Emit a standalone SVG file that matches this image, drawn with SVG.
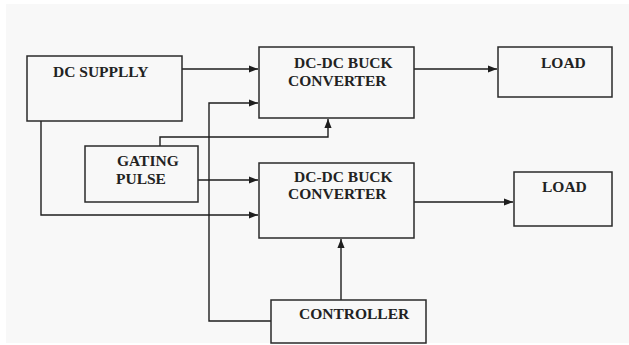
<svg xmlns="http://www.w3.org/2000/svg" width="629" height="345" viewBox="0 0 629 345">
<defs>
<style>
.box{fill:none;stroke:#2a2a2a;stroke-width:1.5}
.lbl{font-family:"Liberation Serif","Times New Roman",serif;font-size:15.5px;font-weight:bold;fill:#222222}
.wire{fill:none;stroke:#1e1e1e;stroke-width:1.4}
</style>
<marker id="ah" viewBox="0 0 10 8" refX="10" refY="4" markerWidth="9" markerHeight="7.5" markerUnits="userSpaceOnUse" orient="auto">
<path d="M0,0 L10,4 L0,8 Z" fill="#1e1e1e"/>
</marker>
</defs>
<rect x="0" y="0" width="629" height="345" fill="#ffffff"/>
<rect x="6" y="4" width="623" height="339" fill="#f8f8f8"/>
<g id="connectors">
<path class="wire" d="M182,69 H258" marker-end="url(#ah)"/>
<path class="wire" d="M271,321 H209 V103 H258" marker-end="url(#ah)"/>
<path class="wire" d="M160,146 V137 H328 V119" marker-end="url(#ah)"/>
<path class="wire" d="M198,180 H258" marker-end="url(#ah)"/>
<path class="wire" d="M41,121 V215 H258" marker-end="url(#ah)"/>
<path class="wire" d="M341,300 V239" marker-end="url(#ah)"/>
<path class="wire" d="M414,69 H497" marker-end="url(#ah)"/>
<path class="wire" d="M414,202 H513" marker-end="url(#ah)"/>
</g>
<g id="dc-supply">
<rect class="box" x="27" y="56" width="155" height="65"/>
<text class="lbl" x="53" y="77">DC SUPPLLY</text>
</g>
<g id="gating-pulse">
<rect class="box" x="85" y="146" width="113" height="56"/>
<text class="lbl" x="117" y="166">GATING</text>
<text class="lbl" x="116" y="184">PULSE</text>
</g>
<g id="converter-1">
<rect class="box" x="259" y="47" width="155" height="71"/>
<text class="lbl" x="294" y="68">DC-DC BUCK</text>
<text class="lbl" x="288" y="86">CONVERTER</text>
</g>
<g id="converter-2">
<rect class="box" x="259" y="163" width="155" height="75"/>
<text class="lbl" x="294" y="182">DC-DC BUCK</text>
<text class="lbl" x="288" y="199">CONVERTER</text>
</g>
<g id="load-1">
<rect class="box" x="498" y="47" width="114" height="50"/>
<text class="lbl" x="541" y="68">LOAD</text>
</g>
<g id="load-2">
<rect class="box" x="514" y="172" width="98" height="54"/>
<text class="lbl" x="542" y="192">LOAD</text>
</g>
<g id="controller">
<rect class="box" x="271" y="300" width="155" height="43"/>
<text class="lbl" x="299" y="319">CONTROLLER</text>
</g>
</svg>
